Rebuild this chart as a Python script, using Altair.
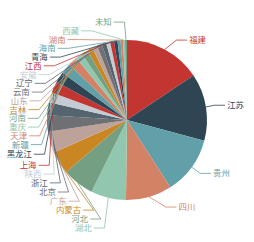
import math
import altair as alt
import pandas as pd

names = ["福建", "江苏", "贵州", "四川", "湖北", "河北", "内蒙古", "广东", "北京", "浙江",
         "陕西", "上海", "黑龙江", "新疆", "天津", "重庆", "河南", "吉林", "山东", "云南",
         "辽宁", "安徽", "江西", "青海", "海南", "湖南", "西藏", "未知"]
values = [156, 135, 117, 93, 71, 64, 46, 43, 33, 26,
          20, 23, 22, 21, 19, 14, 13, 11, 10, 10,
          9, 8, 8, 7, 6, 5, 4, 4]
palette = ["#c23531", "#2f4554", "#61a0a8", "#d48265", "#91c7ae", "#749f83",
           "#ca8622", "#bda29a", "#6e7074", "#546570", "#c4ccd3"]

W, H = 254, 242
CX, CY, R = 127, 120, 80
S = 0.707
L1, L2 = 15 * S, 15 * S
GAP0, GAP1 = 5 * S, 3 * S
LH = 8.75

total = float(sum(values))
colors = [palette[i % len(palette)] for i in range(len(names))]

items = []
cum = 0.0
for i, (n, v) in enumerate(zip(names, values)):
    a0 = cum / total * 2 * math.pi
    cum += v
    a1 = cum / total * 2 * math.pi
    mid = (a0 + a1) / 2
    dx, dy = math.sin(mid), -math.cos(mid)
    x1, y1 = CX + R * dx, CY + R * dy
    x2, y2 = CX + (R + L1) * dx, CY + (R + L1) * dy
    d = -1 if dx < 0 else 1
    x3 = x2 + d * L2
    items.append(dict(name=n, idx=i, x1=x1, y1=y1, dist=x2 - x3,
                      tx=x3 + d * GAP0, y=y2, h=LH))


def adjust_side(lst, direction):
    lst.sort(key=lambda e: e["y"])
    n = len(lst)

    def shift_up(end, delta):
        for j in range(end, -1, -1):
            lst[j]["y"] -= delta
            if j > 0 and lst[j]["y"] > lst[j - 1]["y"] + lst[j - 1]["h"]:
                break

    def shift_down(start, end, delta):
        for j in range(start, end):
            lst[j]["y"] += delta
            if j > start and j + 1 < end and lst[j + 1]["y"] > lst[j]["y"] + lst[j]["h"]:
                shift_up(j, delta / 2)
                return
        shift_up(end - 1, delta / 2)

    last_y = 0
    for i in range(n):
        delta = lst[i]["y"] - last_y
        if delta < 0:
            shift_down(i, n, -delta)
        last_y = lst[i]["y"] + lst[i]["h"]
    if H - last_y < 0:
        shift_up(n - 1, last_y - H)

    def change_x(sub, is_down):
        last = float("inf") if is_down else 0.0
        for e in sub:
            ddy = abs(e["y"] - CY)
            if ddy < R + L1:
                ddx = math.sqrt((R + L1 + L2) ** 2 - ddy ** 2)
            else:
                ddx = abs(e["tx"] - CX)
            if is_down and ddx >= last:
                ddx = last - 10 * S
            if (not is_down) and ddx <= last:
                ddx = last + 10 * S
            e["tx"] = CX + ddx * direction
            last = ddx

    change_x([e for e in lst if e["y"] < CY], False)
    change_x([e for e in lst if e["y"] >= CY], True)


left = [e for e in items if e["tx"] < CX]
right = [e for e in items if e["tx"] >= CX]
adjust_side(right, 1)
adjust_side(left, -1)

line_rows = []
for e in items:
    if e["tx"] < CX:
        ex = e["tx"] + GAP1
        e["side"] = "L"
    else:
        ex = e["tx"] - GAP1
        e["side"] = "R"
    kx = ex + e["dist"]
    line_rows += [dict(name=e["name"], pt=0, x=e["x1"], y=e["y1"]),
                  dict(name=e["name"], pt=1, x=kx, y=e["y"]),
                  dict(name=e["name"], pt=2, x=ex, y=e["y"])]

df = pd.DataFrame({"name": names, "value": values, "idx": list(range(len(names)))})
lab = pd.DataFrame([{k: e[k] for k in ("name", "tx", "y", "side")} for e in items])
lines = pd.DataFrame(line_rows)

cscale = alt.Scale(domain=names, range=colors)
xs = alt.Scale(domain=[0, W], range=[0, W], nice=False, zero=False)
ys = alt.Scale(domain=[0, H], range=[0, H], nice=False, zero=False)

pie = alt.Chart(df).mark_arc(radius=R).encode(
    theta=alt.Theta("value:Q", stack=True),
    color=alt.Color("name:N", scale=cscale, legend=None),
    order=alt.Order("idx:Q", sort="ascending"),
    x=alt.value(CX), y=alt.value(CY),
)

lline = alt.Chart(lines).mark_line(strokeWidth=0.8).encode(
    x=alt.X("x:Q", scale=xs, axis=None),
    y=alt.Y("y:Q", scale=ys, axis=None),
    detail="name:N",
    order=alt.Order("pt:Q"),
    color=alt.Color("name:N", scale=cscale, legend=None),
)

def txt(side, align):
    return alt.Chart(lab).transform_filter(alt.datum.side == side).mark_text(
        align=align, baseline="middle", fontSize=8.4, font="Noto Sans CJK SC"
    ).encode(
        x=alt.X("tx:Q", scale=xs, axis=None),
        y=alt.Y("y:Q", scale=ys, axis=None),
        text="name:N",
        color=alt.Color("name:N", scale=cscale, legend=None),
    )

chart = alt.layer(pie, lline, txt("L", "right"), txt("R", "left")).properties(
    width=W, height=H, autosize="none", padding=0
).configure_view(stroke=None)

chart.save("out.html", embed_options={"renderer": "svg", "actions": False})
